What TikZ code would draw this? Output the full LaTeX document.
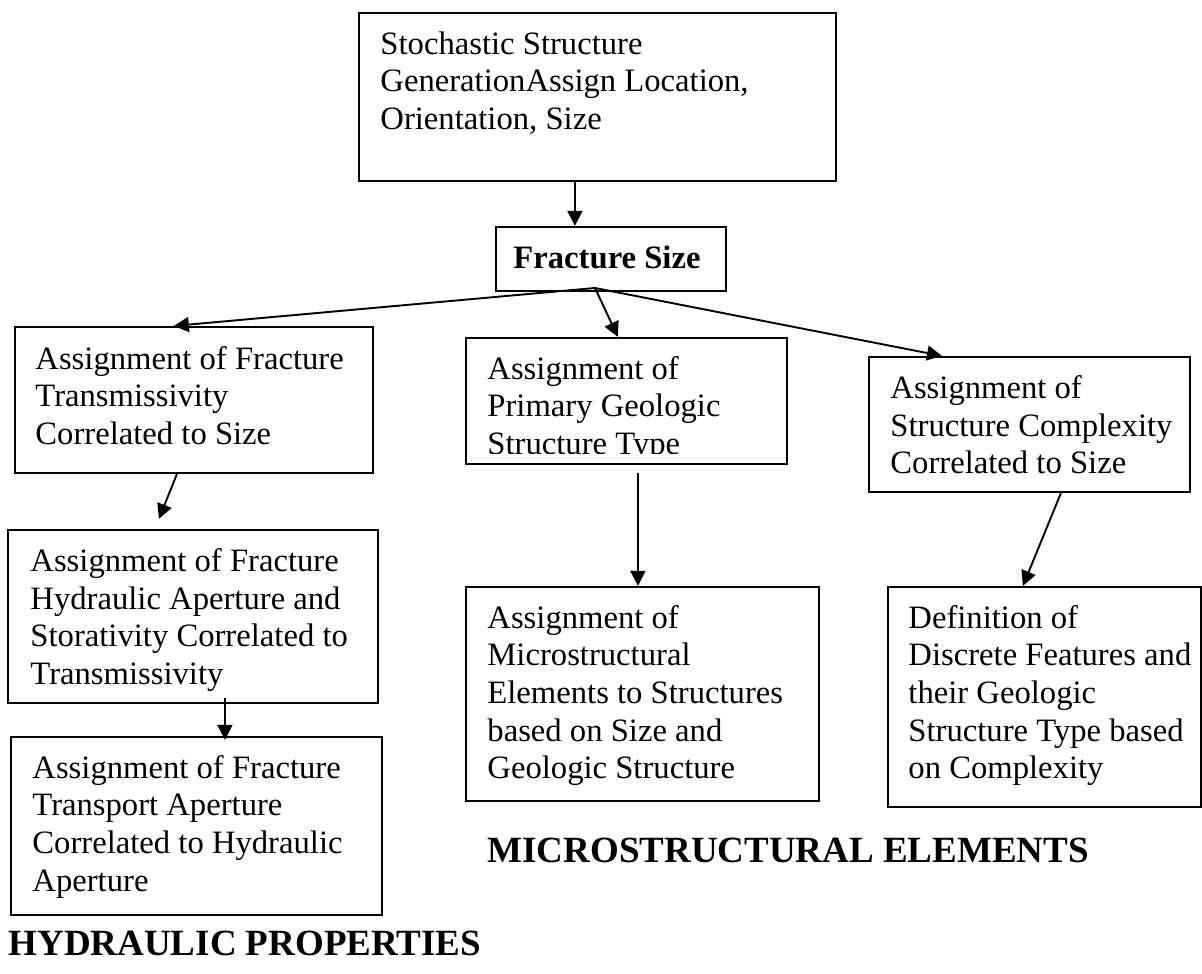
\documentclass[tikz,border=0pt]{standalone}
\usepackage{fontspec}
\setmainfont{Liberation Serif}
\usepackage{tikz}
\usetikzlibrary{positioning, calc, fit, arrows.meta}
\tikzset{
box/.style={draw, line width=0.8pt, inner sep=0pt},
boxtext/.style={anchor=north west, inner sep=0pt, align=left, font=\fontsize{12}{13.8}\selectfont},
heading/.style={anchor=base west, inner sep=0pt, font=\fontsize{13.6}{16}\selectfont\bfseries},
flow/.style={-{Triangle[length=5.5pt, width=5.5pt]}, line width=0.7pt},
}

\begin{document}
\begin{tikzpicture}[x=0.3675pt, y=-0.3675pt]
    \useasboundingbox (0,0) rectangle (1202,974);

    %top of the chart
    \node[box, fit={(359,13) (836,181)}] (gen) {};
    \node[box, fit={(496,227) (726,291)}] (size) {};
    \coordinate (fan) at (595,288);

    %boxes in left column
    \node[box, fit={(15,327) (373,473)}]  (trans) {};
    \node[box, fit={(8,530) (378,703)}]   (hyd) {};
    \node[box, fit={(11,737) (382,915)}]  (trsp) {};

    %boxes in middle column
    \node[box, fit={(466,338) (787,464)}] (prim) {};
    \node[box, fit={(466,587) (819,801)}] (micro) {};

    %boxes in right column
    \node[box, fit={(869,357) (1190,492)}] (cplx) {};
    \node[box, fit={(888,587) (1201,807)}] (disc) {};

    %texts in the boxes
    \node[boxtext] (gen text)   at ($(gen.north west)+(22,19)$)   {Stochastic Structure\\GenerationAssign Location,\\Orientation, Size};
    \node[boxtext, anchor=base, font=\fontsize{12}{13.8}\selectfont\bfseries] (size text) at ($(size.center)+(-4,10)$) {Fracture Size};
    \node[boxtext] (trans text) at ($(trans.north west)+(21,20)$) {Assignment of Fracture\\Transmissivity\\Correlated to Size};
    \node[boxtext] (hyd text)   at ($(hyd.north west)+(23,19)$)   {Assignment of Fracture\\Hydraulic Aperture and\\Storativity Correlated to\\Transmissivity};
    \node[boxtext] (trsp text)  at ($(trsp.north west)+(22,19)$)  {Assignment of Fracture\\Transport Aperture\\Correlated to Hydraulic\\Aperture};
    \begin{scope}
        \clip (prim.north west) rectangle ($(prim.east)+(0,53)$);
        \node[boxtext] (prim text) at ($(prim.north west)+(22,19)$) {Assignment of\\Primary Geologic\\Structure Type};
    \end{scope}
    \node[boxtext] (micro text) at ($(micro.north west)+(22,19)$) {Assignment of\\Microstructural\\Elements to Structures\\based on Size and\\Geologic Structure};
    \node[boxtext] (cplx text)  at ($(cplx.north west)+(22,19)$)  {Assignment of\\Structure Complexity\\Correlated to Size};
    \node[boxtext] (disc text)  at ($(disc.north west)+(21,19)$)  {Definition of\\Discrete Features and\\their Geologic\\Structure Type based\\on Complexity};

    %group titles
    \node[heading] (micro title) at (487,863) {MICROSTRUCTURAL ELEMENTS};
    \node[heading] (hyd title)   at (8,955)   {HYDRAULIC PROPERTIES};

    %arrows
    \draw[flow] ($(gen.south west)+(217,0)$) -- ($(size.north west)+(80,0)$);
    \draw[flow] (fan) -- ($(trans.north west)+(160,0)$);
    \draw[flow] (fan) -- ($(prim.north west)+(153,0)$);
    \draw[flow] (fan) -- ($(cplx.north west)+(74,0)$);
    \draw[flow] ($(trans.south west)+(163,0)$) -- ($(hyd.north west)+(152,-10)$);
    \draw[flow] ($(hyd.south west)+(218,-6)$) -- ($(trsp.north west)+(215,4)$);
    \draw[flow] ($(prim.south west)+(173,8)$) -- ($(micro.north west)+(173,0)$);
    \draw[flow] ($(cplx.south west)+(193,0)$) -- ($(disc.north west)+(136,0)$);
\end{tikzpicture}
\end{document}
